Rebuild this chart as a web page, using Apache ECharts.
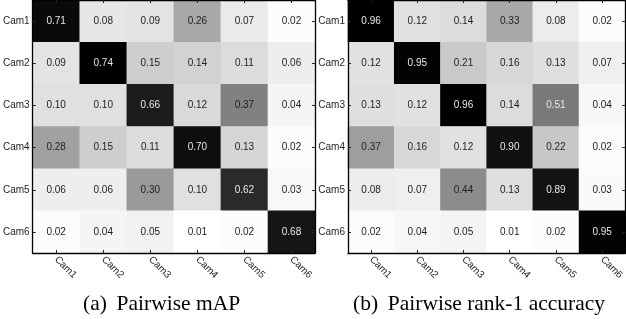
<!DOCTYPE html>
<html>
<head>
<meta charset="utf-8">
<script src="https://cdn.jsdelivr.net/npm/echarts@6/dist/echarts.min.js"></script>
<style>html,body{margin:0;padding:0;background:#fff;}#c{width:626px;height:319px;}</style>
</head>
<body>
<div id="c"></div>
<script>
const cams = ['Cam1', 'Cam2', 'Cam3', 'Cam4', 'Cam5', 'Cam6'];
const mapValues = [
  [0.71, 0.08, 0.09, 0.26, 0.07, 0.02],
  [0.09, 0.74, 0.15, 0.14, 0.11, 0.06],
  [0.10, 0.10, 0.66, 0.12, 0.37, 0.04],
  [0.28, 0.15, 0.11, 0.70, 0.13, 0.02],
  [0.06, 0.06, 0.30, 0.10, 0.62, 0.03],
  [0.02, 0.04, 0.05, 0.01, 0.02, 0.68]
];
const rank1Values = [
  [0.96, 0.12, 0.14, 0.33, 0.08, 0.02],
  [0.12, 0.95, 0.21, 0.16, 0.13, 0.07],
  [0.13, 0.12, 0.96, 0.14, 0.51, 0.04],
  [0.37, 0.16, 0.12, 0.90, 0.22, 0.02],
  [0.08, 0.07, 0.44, 0.13, 0.89, 0.03],
  [0.02, 0.04, 0.05, 0.01, 0.02, 0.95]
];
const captionA = '(a)\u2009 Pairwise mAP';
const captionB = '(b)\u2009 Pairwise rank-1 accuracy';

function toTriples(m) {
  const out = [];
  m.forEach((row, r) => row.forEach((v, c) => out.push([c, r, v])));
  return out;
}
function range(m) {
  const flat = m.flat();
  return [Math.min(...flat), Math.max(...flat)];
}
const rA = range(mapValues), rB = range(rank1Values);
const SANS = 'Liberation Sans, Arial, sans-serif';

function labelFor(r) {
  return {
    show: true,
    formatter: p => {
      const v = p.value[2];
      const n = (v - r[0]) / (r[1] - r[0]);
      return (n > 0.5 ? '{w|' : '{d|') + v.toFixed(2) + '}';
    },
    rich: {
      w: { color: '#e8e8e8', fontSize: 10, fontFamily: SANS },
      d: { color: '#1e1e1e', fontSize: 10, fontFamily: SANS }
    }
  };
}

const axisLine = { show: true, lineStyle: { color: '#000', width: 1.3 } };
const tick = { show: true, inside: true, alignWithLabel: true, length: 3, lineStyle: { color: '#222', width: 1 } };
const lab = { fontSize: 10, fontFamily: SANS, color: '#1e1e1e' };

function axesFor(g) {
  return {
    x: [
      { type: 'category', gridIndex: g, data: cams, position: 'bottom', z: 10,
        axisLine, axisTick: tick, splitLine: { show: false },
        axisLabel: Object.assign({ rotate: -45, margin: 5, interval: 0 }, lab) },
      { type: 'category', gridIndex: g, data: cams, position: 'top', z: 10,
        axisLine, axisTick: tick, axisLabel: { show: false }, splitLine: { show: false } }
    ],
    y: [
      { type: 'category', gridIndex: g, data: cams, inverse: true, position: 'left', z: 10,
        axisLine, axisTick: tick, splitLine: { show: false },
        axisLabel: Object.assign({ margin: 3, interval: 0 }, lab) },
      { type: 'category', gridIndex: g, data: cams, inverse: true, position: 'right', z: 10,
        axisLine, axisTick: tick, axisLabel: { show: false }, splitLine: { show: false } }
    ]
  };
}
const a0 = axesFor(0), a1 = axesFor(1);

const chart = echarts.init(document.getElementById('c'), null, { renderer: 'canvas' });
chart.setOption({
  animation: false,
  backgroundColor: '#fff',
  grid: [
    { left: 32.5, top: -1, width: 282.5, height: 254 },
    { left: 348, top: -1, width: 285, height: 254 }
  ],
  xAxis: [...a0.x, ...a1.x],
  yAxis: [...a0.y, ...a1.y],
  visualMap: [
    { type: 'continuous', show: false, seriesIndex: 0, min: rA[0], max: rA[1], dimension: 2,
      inRange: { color: ['#ffffff', '#000000'] } },
    { type: 'continuous', show: false, seriesIndex: 1, min: rB[0], max: rB[1], dimension: 2,
      inRange: { color: ['#ffffff', '#000000'] } }
  ],
  series: [
    { type: 'heatmap', xAxisIndex: 0, yAxisIndex: 0, data: toTriples(mapValues),
      label: labelFor(rA), emphasis: { disabled: true } },
    { type: 'heatmap', xAxisIndex: 2, yAxisIndex: 2, data: toTriples(rank1Values),
      label: labelFor(rB), emphasis: { disabled: true } }
  ],
  graphic: [
    { type: 'text', left: 83, top: 293,
      style: { text: captionA, font: '21.5px "Liberation Serif", "Times New Roman", serif', fill: '#000' } },
    { type: 'text', left: 353, top: 293,
      style: { text: captionB, font: '21.5px "Liberation Serif", "Times New Roman", serif', fill: '#000' } }
  ]
});
</script>
</body>
</html>
